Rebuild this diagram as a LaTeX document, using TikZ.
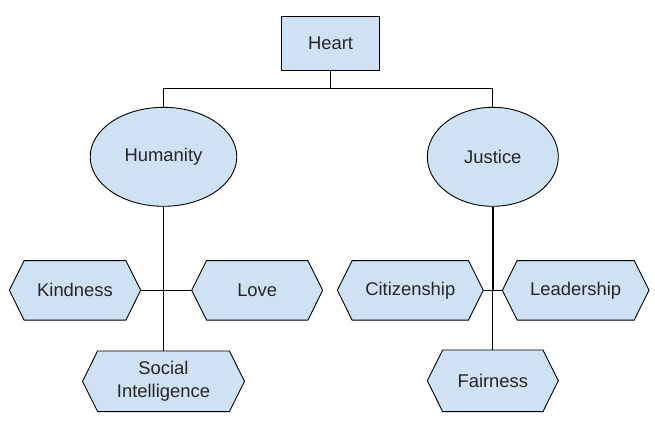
\documentclass[tikz,border=0pt]{standalone}
\usepackage{fontspec}
\setmainfont{Liberation Sans}
\usetikzlibrary{shapes.geometric,shapes.symbols}
\definecolor{boxblue}{HTML}{CFE2F3}
\begin{document}
\begin{tikzpicture}[x=1pt,y=-1pt,
  every node/.style={font=\fontsize{18.4}{22.5}\selectfont,text=black!85,align=center},
  box/.style={draw,fill=boxblue,line width=0.9pt,inner sep=0pt},
  oval/.style={box,ellipse,minimum height=99},
  hexa/.style={box,signal,signal to=west and east,signal pointer angle=127,minimum height=59.5},
  link/.style={line width=0.9pt}]
\useasboundingbox[fill=white] (0,0) rectangle (655,423);
% top
\node[box,minimum width=97.6,minimum height=53.6] (heart) at (330.5,43.5) {Heart};
\node[oval,minimum width=146.6] (humanity) at (163.5,156.8) {Humanity};
\node[oval,minimum width=131] (justice) at (492.8,156.8) {Justice};
\coordinate (bus) at (330.5,88.3);
\draw[link] (heart.south) -- (bus) -| (humanity.north);
\draw[link] (bus) -| (justice.north);
% left branch
\node[hexa,minimum width=131.4] (kindness) at (75,290.3) {Kindness};
\node[hexa,minimum width=131] (love) at (257.2,290.3) {Love};
\node[hexa,minimum width=162,minimum height=60.7] (social) at (163.5,381.3) {Social\\Intelligence};
\draw[link] (humanity.south) -- (social.north);
\draw[link] (kindness.east) -- (love.west);
% right branch
\node[hexa,minimum width=146] (citizen) at (410.3,290.3) {Citizenship};
\node[hexa,minimum width=146.7] (leader) at (575.7,290.3) {Leadership};
\node[hexa,minimum width=131,minimum height=61.7] (fair) at (492.8,380.8) {Fairness};
\coordinate (knot) at (justice.south |- citizen.east);
\draw[line width=1.6pt] (justice.south) -- (knot);
\draw[link] (knot) -- (fair.north);
\draw[link] (citizen.east) -- (leader.west);
\end{tikzpicture}
\end{document}
